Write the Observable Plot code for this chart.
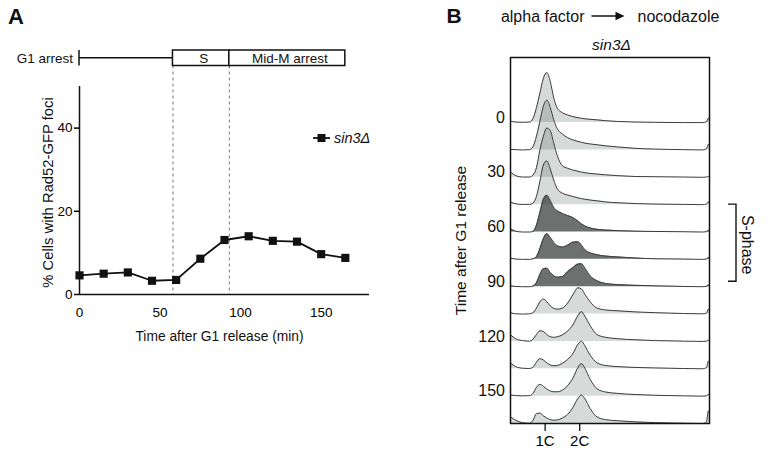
<!DOCTYPE html>
<html><head><meta charset="utf-8">
<script src="https://cdn.jsdelivr.net/npm/d3@7"></script>
<script src="https://cdn.jsdelivr.net/npm/@observablehq/plot@0.6"></script>
<style>
html,body{margin:0;padding:0;background:#fff;}
#wrap{display:flex;width:769px;height:455px;overflow:hidden;}
svg{font-family:"Liberation Sans",Arial,Helvetica,sans-serif;display:block;}
</style></head><body><div id="wrap"><div id="a"></div><div id="b"></div></div>
<script>
// ---------- Panel A data ----------
const times = [0,15,30,45,60,75,90,105,120,135,150,165];
const fociPct = [4.6,5.0,5.3,3.3,3.5,8.6,13.1,14.0,12.9,12.7,9.7,8.8];
const phaseNames = ["G1 arrest","S","Mid-M arrest"];
const phaseStart = [0,58,93];
const phaseEnd = [58,93,165];
const yTicksA = [0,20,40];
const xTicksA = [0,50,100,150];
const strainName = "sin3Δ";

// ---------- Panel B data (DNA content in C units, relative cell counts) ----------
const dna = [0,0.15,0.35,0.55,0.65,0.75,0.85,0.95,1.05,1.15,1.25,1.35,1.5,1.65,1.8,1.95,2.05,2.15,2.3,2.5,2.75,3.1,3.6,4.2,5.0,5.55,5.66,5.72,5.75];
const count0   = [5,2,1,2,15,55,108,162,183,150,90,53,36,28,22,18,16,14,12,10,7,4,2,1,0,0,3,16,12];
const count15  = [2,1,0,1,12,50,105,160,182,155,110,78,58,45,37,31,28,25,22,19,15,11,6,3,1,0,4,21,16];
const count30  = [21,6,1,1,8,35,100,150,180,170,125,80,42,33,27,22,19,17,14,12,9,6,3,2,1,0,1,3,2];
const count45  = [10,3,1,1,6,30,85,145,160,130,90,58,42,35,30,25,22,20,17,14,10,7,4,2,1,0,2,10,7];
const count60  = [12,3,0,0,2,25,72,120,134,115,90,78,68,60,53,40,30,22,15,10,7,5,3,2,1,0,1,6,5];
const count75  = [5,1,0,0,2,10,40,76,94,80,62,50,45,52,63,64,52,35,24,17,12,9,5,2,1,0,1,6,5];
const count90  = [3,1,0,0,2,15,45,66,68,52,40,35,37,55,69,83,84,68,40,22,12,8,5,3,1,0,1,6,5];
const count105 = [5,1,0,1,5,22,45,55,45,30,21,18,22,40,70,96,92,72,45,22,15,12,8,5,2,1,3,18,14];
const count120 = [24,10,3,1,8,25,39,36,25,17,15,17,24,38,60,95,109,92,58,25,15,10,6,3,1,0,1,4,3];
const count135 = [21,8,2,1,6,24,37,32,22,14,11,12,20,34,55,90,101,84,50,22,12,8,5,3,1,0,4,28,22];
const count150 = [4,2,1,2,10,32,43,36,26,19,16,16,22,38,65,105,119,102,62,27,15,10,6,3,1,0,1,6,5];
const count165 = [24,12,3,1,12,36,38,28,20,14,12,13,20,33,58,92,104,90,55,24,14,10,6,3,1,0,6,46,40];
const ridgeCounts = [count0,count15,count30,count45,count60,count75,count90,count105,count120,count135,count150,count165];
const sPhaseTimes = [60,75,90];
const timeLabels = [0,30,60,90,120,150];
const dnaTicks = [1,2];
const dnaTickLabels = ["1C","2C"];

const FONT = '"Liberation Sans",Arial,Helvetica,sans-serif';

// ================= Panel A =================
const rowsA = times.map((t,i)=>({t, v: fociPct[i]}));
const chartA = Plot.plot({
  width: 440, height: 455,
  marginLeft: 79, marginRight: 71, marginTop: 86, marginBottom: 161,
  style: {fontFamily: FONT, fontSize: "13px", background: "#fff", overflow: "visible"},
  x: {domain: [0,180]},
  y: {domain: [0,50]},
  marks: [
    Plot.ruleX(phaseStart.slice(1), {stroke:"#777", strokeDasharray:"3,3", strokeWidth:1, insetTop:-20.5}),
    Plot.ruleX([0], {stroke:"#111", strokeWidth:1.5}),
    Plot.ruleY([0], {stroke:"#111", strokeWidth:1.5}),
    Plot.axisY({ticks: yTicksA, tickSize: 5, tickPadding: 2, fontSize: 13.5, label: null, strokeWidth: 1.5}),
    Plot.axisX({ticks: xTicksA, tickSize: 0, tickPadding: 13, fontSize: 13.5, label: null}),
    Plot.line(rowsA, {x:"t", y:"v", stroke:"#111", strokeWidth:1.8}),
    Plot.dot(rowsA, {x:"t", y:"v", symbol:"square", r:4.6, fill:"#111", stroke:"none"}),
    Plot.text(["% Cells with Rad52-GFP foci"], {text: d=>d, frameAnchor:"left", textAnchor:"middle", lineAnchor:"middle", rotate:-90, dx:-31, dy:2, fontSize:14.8, fill:"#111"}),
    Plot.text(["Time after G1 release (min)"], {text: d=>d, frameAnchor:"bottom", textAnchor:"middle", lineAnchor:"middle", dx:-5, dy:42, fontSize:13.8, fill:"#111"})
  ]
});
document.getElementById("a").appendChild(chartA);
{
  const svg = d3.select(chartA);
  const xa = chartA.scale("x").apply;
  svg.append("text").attr("x",8).attr("y",24).attr("text-anchor","start").attr("font-size",22).attr("font-weight","bold").attr("fill","#111").text("A");
  const yT = 50, yB = 65.5, yM = (yT+yB)/2;
  const g = svg.append("g").attr("stroke","#111").attr("stroke-width",1.5).attr("fill","none");
  g.append("line").attr("x1",xa(phaseStart[0])).attr("x2",xa(phaseEnd[0])).attr("y1",yM).attr("y2",yM);
  g.append("line").attr("x1",xa(phaseStart[0])).attr("x2",xa(phaseStart[0])).attr("y1",yT).attr("y2",yB);
  for (let i=1;i<phaseNames.length;i++){
    g.append("rect").attr("x",xa(phaseStart[i])).attr("y",yT).attr("width",xa(phaseEnd[i])-xa(phaseStart[i])).attr("height",yB-yT).attr("fill","#fff");
  }
  const tg = svg.append("g").attr("font-size",13.5).attr("fill","#111");
  tg.append("text").attr("x",xa(phaseStart[0])-6).attr("y",yM+4.8).attr("text-anchor","end").text(phaseNames[0]);
  for (let i=1;i<phaseNames.length;i++){
    tg.append("text").attr("x",(xa(phaseStart[i])+xa(phaseEnd[i]))/2+3).attr("y",yM+4.8).attr("text-anchor","middle").text(phaseNames[i]);
  }
  // legend
  const lg = svg.append("g");
  lg.append("line").attr("x1",313).attr("x2",330).attr("y1",138).attr("y2",138).attr("stroke","#111").attr("stroke-width",1.8);
  lg.append("rect").attr("x",317.5).attr("y",134).attr("width",8).attr("height",8).attr("fill","#111");
  lg.append("text").attr("x",334).attr("y",143).attr("text-anchor","start").attr("font-size",14.5).attr("font-style","italic").attr("fill","#111").text(strainName);
}

// ================= Panel B =================
const nR = times.length;
const baseOf = t => (nR - 1 - times.indexOf(t)) * 100;
const ridgeMarks = [];
times.forEach((t,i)=>{
  const rows = dna.map((c,j)=>({c, n: ridgeCounts[i][j], base: baseOf(t)}));
  const dark = sPhaseTimes.includes(t);
  ridgeMarks.push(Plot.areaY(rows, {x:"c", y1:"base", y2: d=>d.base+d.n, curve:"monotone-x",
    fill: dark ? "rgb(38,46,43)" : "rgb(50,75,65)", fillOpacity: dark ? 0.68 : 0.2}));
  ridgeMarks.push(Plot.lineY(rows, {x:"c", y: d=>d.base+d.n, curve:"monotone-x", stroke:"#3a3d3c", strokeWidth:1}));
});
const chartB = Plot.plot({
  width: 329, height: 455,
  marginLeft: 70, marginRight: 60, marginTop: 57, marginBottom: 32,
  style: {fontFamily: FONT, fontSize: "15px", background: "#fff", overflow: "visible"},
  x: {domain: [0,5.75]},
  y: {domain: [0,1338], axis: null},
  marks: [
    ...ridgeMarks,
    Plot.frame({stroke:"#111", strokeWidth:1.5}),
    Plot.axisX({ticks: dnaTicks, tickFormat: d => dnaTickLabels[dnaTicks.indexOf(d)], tickSize: 8, tickPadding: 4, fontSize: 15, label: null, strokeWidth: 1.2}),
    Plot.text(timeLabels, {text: d=>String(d), frameAnchor:"left", y: d=>baseOf(d), dx:-5.5, dy:-5, textAnchor:"end", fontSize:16, fill:"#111"}),
    Plot.text(["Time after G1 release"], {text: d=>d, frameAnchor:"left", textAnchor:"middle", lineAnchor:"middle", rotate:-90, dx:-49.5, fontSize:15.5, fill:"#111"})
  ]
});
document.getElementById("b").appendChild(chartB);
{
  const svg = d3.select(chartB);
  const yb = chartB.scale("y").apply;
  const xb = chartB.scale("x").apply;
  svg.append("text").attr("x",6.5).attr("y",23).attr("text-anchor","start").attr("font-size",21).attr("font-weight","bold").attr("fill","#111").text("B");
  // header
  const cx = (xb(0)+xb(5.75))/2;
  const hg = svg.append("g").attr("font-size",16).attr("fill","#111");
  hg.append("text").attr("x",cx-25).attr("y",21.5).attr("text-anchor","end").text("alpha factor");
  hg.append("text").attr("x",cx+28).attr("y",21.5).attr("text-anchor","start").text("nocodazole");
  svg.append("line").attr("x1",cx-18).attr("x2",cx+8).attr("y1",16).attr("y2",16).attr("stroke","#111").attr("stroke-width",1.5);
  svg.append("path").attr("d",`M${cx+6},11.8 L${cx+15},16 L${cx+6},20.2 Z`).attr("fill","#111");
  svg.append("text").attr("x",cx+2).attr("y",49.5).attr("text-anchor","middle").attr("font-size",15.5).attr("font-style","italic").attr("fill","#111").text(strainName);
  // S-phase bracket
  const xr = xb(5.75);
  const yTop = yb(baseOf(sPhaseTimes[0]) + 100);
  const yBot = yb(baseOf(sPhaseTimes[sPhaseTimes.length-1])) - 5;
  svg.append("path").attr("d",`M${xr+19},${yTop} H${xr+27} V${yBot} H${xr+19}`).attr("fill","none").attr("stroke","#111").attr("stroke-width",1.4);
  svg.append("text").attr("transform",`translate(${xr+39},${(yTop+yBot)/2+2}) rotate(90)`).attr("text-anchor","middle").attr("dy","0.35em").attr("font-size",16).attr("fill","#111").text("S-phase");
}
</script></body></html>
